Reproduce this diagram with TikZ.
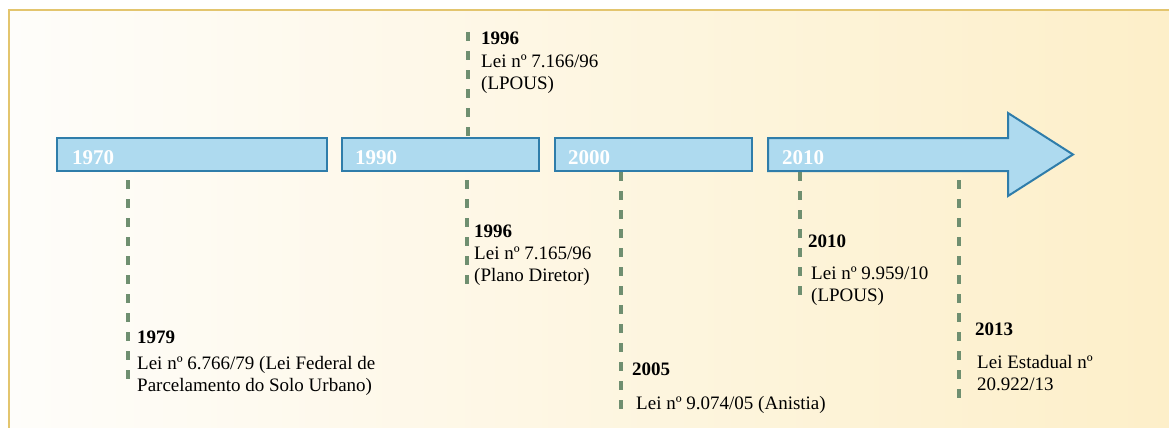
\documentclass[tikz,border=0pt]{standalone}
\usepackage{fontspec}
\setmainfont{Liberation Serif}
\usetikzlibrary{arrows.meta}
\definecolor{barfill}{HTML}{AEDAEF}
\definecolor{barline}{HTML}{2F7DAA}
\definecolor{dashgreen}{HTML}{6F8F70}
\definecolor{framegold}{HTML}{E3C56E}
\definecolor{bgleft}{HTML}{FEFDFA}
\definecolor{bgright}{HTML}{FDEFC9}

\begin{document}
\begin{tikzpicture}[x=1pt,y=-1pt,
    yearbar/.style={draw=barline, fill=barfill, line width=2pt},
    yearlabel/.style={text=white, font=\fontsize{21}{21}\selectfont\bfseries, anchor=base west, inner sep=0pt},
    lawline/.style={draw=dashgreen, line width=3.4pt, dash pattern=on 9pt off 10pt},
    lawyear/.style={font=\fontsize{19}{21}\selectfont\bfseries, anchor=base west, inner sep=0pt},
    lawtext/.style={font=\fontsize{19}{21.5}\selectfont, align=left, anchor=base west, inner sep=0pt}]
      \useasboundingbox (0,0) rectangle (1169,428);
      \shade[left color=bgleft, right color=bgright] (9,10) rectangle (1169,428);
      \draw[framegold, line width=1.5pt] (9,428) -- (9,10) -- (1169,10);

      % time bars
      \node[yearbar, minimum width=270pt, minimum height=33pt, inner sep=0pt] (b1970) at (192,154.5) {};
      \node[yearbar, minimum width=197pt, minimum height=33pt, inner sep=0pt] (b1990) at (440.5,154.5) {};
      \node[yearbar, minimum width=197pt, minimum height=33pt, inner sep=0pt] (b2000) at (653.5,154.5) {};
      \draw[yearbar] (768,138) -- (1008,138) -- (1008,113) -- (1073,154.5) -- (1008,196) -- (1008,171) -- (768,171) -- cycle;
      \node[yearlabel] (y1970) at (72,164) {1970};
      \node[yearlabel] (y1990) at (355,164) {1990};
      \node[yearlabel] (y2000) at (568,164) {2000};
      \node[yearlabel] (y2010) at (782,164) {2010};

      % 1979
      \coordinate (t1979) at (128,180);
      \coordinate (e1979) at (128,388);
      \draw[lawline] (t1979) -- (e1979);
      \node[lawyear] (n1979) at (137,343) {1979};
      \node[lawtext] (l1979) at (137,391) {Lei nº 6.766/79 (Lei Federal de\\Parcelamento do Solo Urbano)};

      % 1996 (above)
      \coordinate (t1996a) at (468,32);
      \draw[lawline] (t1996a) -- (t1996a |- b1990.north);
      \node[lawyear] (n1996a) at (481,45) {1996};
      \node[lawtext] (l1996a) at (481,89) {Lei nº 7.166/96\\(LPOUS)};

      % 1996 (below)
      \coordinate (t1996b) at (467,180);
      \coordinate (e1996b) at (467,284);
      \draw[lawline] (t1996b) -- (e1996b);
      \node[lawyear] (n1996b) at (474,237) {1996};
      \node[lawtext] (l1996b) at (474,281) {Lei nº 7.165/96\\(Plano Diretor)};

      % 2005
      \coordinate (t2005) at (621,172);
      \coordinate (e2005) at (621,415);
      \draw[lawline] (t2005) -- (e2005);
      \node[lawyear] (n2005) at (632,375) {2005};
      \node[lawtext] (l2005) at (636,409) {Lei nº 9.074/05 (Anistia)};

      % 2010
      \coordinate (t2010) at (800,172);
      \coordinate (e2010) at (800,302);
      \draw[lawline] (t2010) -- (e2010);
      \node[lawyear] (n2010) at (808,247) {2010};
      \node[lawtext] (l2010) at (811,301) {Lei nº 9.959/10\\(LPOUS)};

      % 2013
      \coordinate (t2013) at (959,180);
      \coordinate (e2013) at (959,403);
      \draw[lawline] (t2013) -- (e2013);
      \node[lawyear] (n2013) at (975,335) {2013};
      \node[lawtext] (l2013) at (977,390) {Lei Estadual nº\\20.922/13};
    \end{tikzpicture}
\end{document}
